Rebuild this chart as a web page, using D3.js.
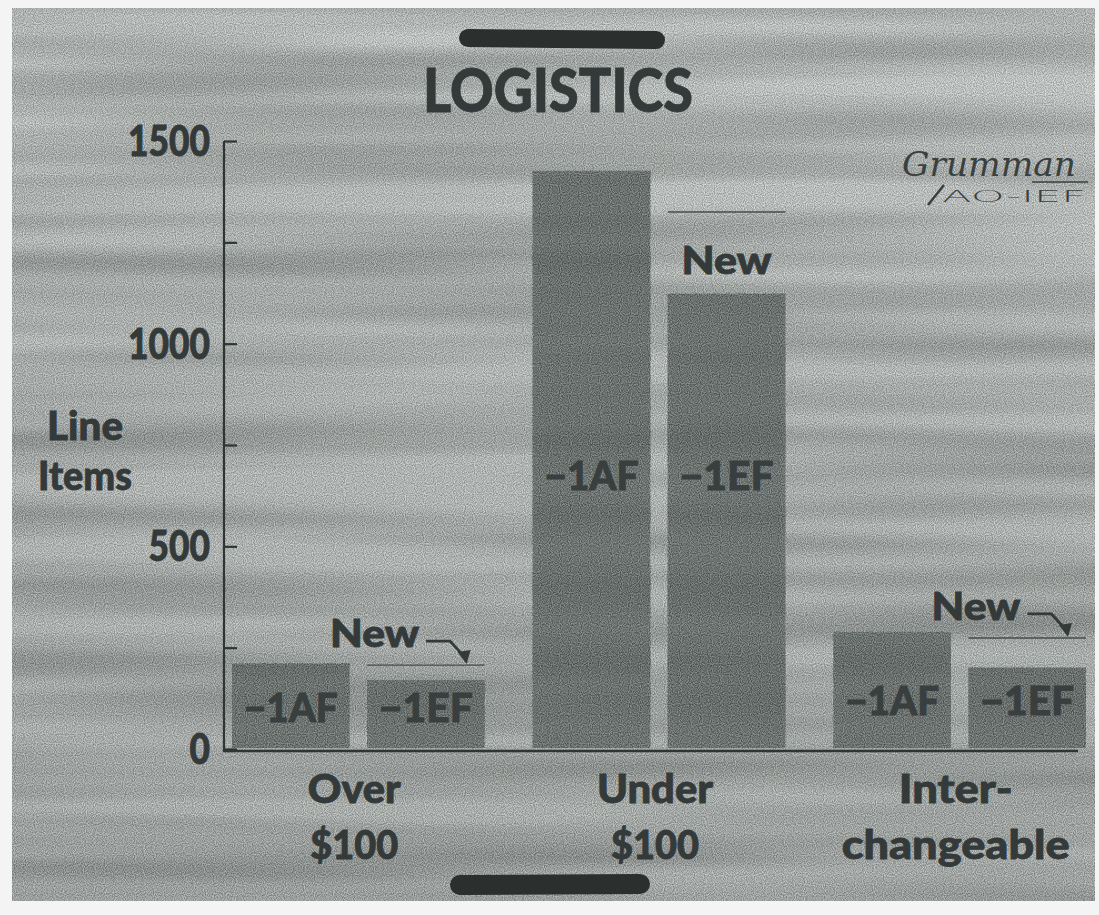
<!DOCTYPE html>
<html>
<head>
<meta charset="utf-8">
<script src="https://cdn.jsdelivr.net/npm/d3@7"></script>
<style>
  body { margin: 0; background: #f3f4f3; }
  svg { display: block; }
  text { font-family: Lato, "Open Sans", sans-serif; font-weight: 900; fill: #343939; }
  text.heavy { stroke: #343939; stroke-width: 0.8px; }
</style>
</head>
<body>
<svg id="chart" width="1099" height="915"></svg>
<script>
// chart values
const categories = ['Over $100', 'Under $100', 'Interchangeable'];
const categoryLines = [['Over', '$100'], ['Under', '$100'], ['Inter-', 'changeable']];
const seriesKeys = ['-1AF', '-1EF'];
const afValues = [210, 1426, 289];
const efValues = [170, 1123, 200];
// level the -1EF bar is compared against ("New" line)
const refValues = [207, 1325, 274];
const majorTicks = [0, 500, 1000, 1500];
const minorTicks = [250, 750, 1250];

const svg = d3.select('#chart');
const ink = '#343939';

// paper + noise (photocopy look)
const defs = svg.append('defs');
const grain = defs.append('filter').attr('id', 'grain')
  .attr('x', 0).attr('y', 0).attr('width', 1).attr('height', 1)
  .attr('color-interpolation-filters', 'sRGB');
grain.append('feTurbulence').attr('type', 'fractalNoise')
  .attr('baseFrequency', '0.0012 0.028').attr('numOctaves', 2).attr('seed', 7).attr('result', 'bands');
grain.append('feColorMatrix').attr('in', 'bands').attr('type', 'matrix')
  .attr('values', '0 0 0 0 0.3  0 0 0 0 0.32  0 0 0 0 0.31  0.9 0 0 0 -0.3').attr('result', 'bandsA');
grain.append('feTurbulence').attr('type', 'fractalNoise')
  .attr('baseFrequency', '0.9').attr('numOctaves', 1).attr('seed', 9).attr('result', 'fine');
grain.append('feColorMatrix').attr('in', 'fine').attr('type', 'matrix')
  .attr('values', '2.2 0 0 0 -0.6  2.2 0 0 0 -0.58  2.2 0 0 0 -0.59  0 0 0 0 0.26').attr('result', 'fineA');
grain.append('feMerge').selectAll('feMergeNode')
  .data(['SourceGraphic', 'bandsA', 'fineA']).join('feMergeNode').attr('in', d => d);

const shade = defs.append('linearGradient').attr('id', 'shade')
  .attr('x1', 0).attr('y1', 0).attr('x2', 0).attr('y2', 1);
shade.append('stop').attr('offset', '0%').attr('stop-color', '#d4d8d6');
shade.append('stop').attr('offset', '40%').attr('stop-color', '#c2c6c4');
shade.append('stop').attr('offset', '100%').attr('stop-color', '#b4b8b6');

svg.append('rect')
  .attr('x', 12).attr('y', 8).attr('width', 1083).attr('height', 893)
  .attr('fill', 'url(#shade)')
  .attr('filter', 'url(#grain)');

// scales
const y = d3.scaleLinear().domain([0, 1500]).range([749, 141]);
const x0 = d3.scaleBand().domain(categories).range([232, 1086]).paddingInner(0.16);
const x1 = d3.scaleBand().domain(seriesKeys).range([0, x0.bandwidth()]).paddingInner(0.13);

const rows = categories.map((c, i) => ({
  cat: c, lines: categoryLines[i], af: afValues[i], ef: efValues[i], ref: refValues[i]
}));

// bars
const groups = svg.append('g').selectAll('g')
  .data(rows)
  .join('g')
  .attr('transform', d => `translate(${x0(d.cat)},0)`);

groups.selectAll('rect')
  .data(d => [{ key: '-1AF', v: d.af }, { key: '-1EF', v: d.ef }])
  .join('rect')
  .attr('x', d => x1(d.key))
  .attr('y', d => y(d.v))
  .attr('width', x1.bandwidth())
  .attr('height', d => y(0) - y(d.v) - 1)
  .attr('fill', '#676e6b')
  .attr('filter', 'url(#grain)');

groups.selectAll('text.series')
  .data(d => seriesKeys.map(k => ({ key: k, ef: d.ef })))
  .join('text')
  .attr('class', 'series heavy')
  .attr('x', d => x1(d.key) + x1.bandwidth() / 2)
  .attr('y', d => y(d.ef * 0.6))
  .attr('dy', '0.36em')
  .attr('text-anchor', 'middle')
  .attr('font-size', 40)
  .attr('textLength', 94)
  .attr('lengthAdjust', 'spacingAndGlyphs')
  .style('fill', '#393e3e').style('stroke', '#393e3e')
  .text(d => d.key.replace('-', '\u2212'));

// "New" reference line + label
groups.each(function (d) {
  const g = d3.select(this);
  const left = x1('-1EF');
  const right = left + x1.bandwidth();
  g.append('line')
    .attr('x1', left).attr('x2', right)
    .attr('y1', y(d.ref)).attr('y2', y(d.ref))
    .attr('stroke', '#474c4c').attr('stroke-width', 1.4);
  const gap = y(d.ef) - y(d.ref);
  if (gap > 50) {
    g.append('text')
      .attr('class', 'heavy')
      .attr('x', left + x1.bandwidth() / 2)
      .attr('y', y(d.ef) - 20)
      .attr('text-anchor', 'middle')
      .attr('font-size', 37)
      .attr('textLength', 90)
      .attr('lengthAdjust', 'spacingAndGlyphs')
      .text('New');
  } else {
    const by = y(d.ref) - 18;
    const tx = left - 37;
    g.append('text')
      .attr('class', 'heavy')
      .attr('x', tx).attr('y', by)
      .attr('font-size', 37)
      .attr('textLength', 89)
      .attr('lengthAdjust', 'spacingAndGlyphs')
      .text('New');
    const tipX = right - 19, tipY = y(d.ref) - 1;
    const hy = by - 6;
    g.append('path')
      .attr('d', `M${tx + 96},${hy}L${tx + 120},${hy}L${tipX},${tipY - 6}`)
      .attr('fill', 'none').attr('stroke', ink).attr('stroke-width', 2.8);
    g.append('path')
      .attr('d', `M${tipX - 8},${tipY - 12}L${tipX + 1},${tipY}L${tipX + 5},${tipY - 14}Z`)
      .attr('fill', ink);
  }
});

// y axis
const axisG = svg.append('g').attr('transform', 'translate(224,0)');
axisG.call(d3.axisRight(y).tickValues(majorTicks.concat(minorTicks)).tickSize(13).tickFormat(''))
  .call(g => g.select('.domain').attr('d', `M0,${y(1500)}V${y(0) + 2}`))
  .call(g => g.selectAll('line, path').attr('stroke', '#2f3434').attr('stroke-width', 2.2));

svg.append('g').selectAll('text')
  .data(majorTicks)
  .join('text')
  .attr('class', 'heavy')
  .attr('x', 210)
  .attr('y', d => y(d))
  .attr('dy', '0.36em')
  .attr('text-anchor', 'end')
  .attr('font-size', 42)
  .attr('textLength', d => String(d).length * 20.5)
  .attr('lengthAdjust', 'spacingAndGlyphs')
  .text(d => d);

// baseline
svg.append('line')
  .attr('x1', 223).attr('x2', x0.range()[1] - 8)
  .attr('y1', y(0) + 2).attr('y2', y(0) + 2)
  .attr('stroke', '#2f3434').attr('stroke-width', 2.5);

// y label
svg.append('text').attr('class', 'heavy').attr('x', 85).attr('y', 440).attr('text-anchor', 'middle')
  .attr('font-size', 40).attr('textLength', 76).attr('lengthAdjust', 'spacingAndGlyphs').text('Line');
svg.append('text').attr('class', 'heavy').attr('x', 85).attr('y', 490).attr('text-anchor', 'middle')
  .attr('font-size', 40).attr('textLength', 94).attr('lengthAdjust', 'spacingAndGlyphs').text('Items');

// category labels
const catWidths = { 'Over': 93, '$100': 88, 'Under': 116, 'Inter-': 114, 'changeable': 228 };
svg.append('g').selectAll('g')
  .data(rows)
  .join('g')
  .each(function (d) {
    const cx = x0(d.cat) + x0.bandwidth() / 2 - 4;
    d3.select(this).selectAll('text')
      .data(d.lines)
      .join('text')
      .attr('class', 'heavy')
      .attr('x', cx)
      .attr('y', (t, i) => 803 + i * 56)
      .attr('text-anchor', 'middle')
      .attr('font-size', 39)
      .attr('textLength', t => catWidths[t])
      .attr('lengthAdjust', 'spacingAndGlyphs')
      .text(t => t);
  });

// title
svg.append('text')
  .attr('class', 'heavy')
  .attr('x', 558).attr('y', 112)
  .attr('text-anchor', 'middle')
  .attr('font-size', 60)
  .attr('textLength', 270)
  .attr('lengthAdjust', 'spacingAndGlyphs')
  .text('LOGISTICS');

// marker strokes
svg.append('path').attr('d', 'M468,38L656,40')
  .attr('stroke', '#2b2f2e').attr('stroke-width', 18).attr('stroke-linecap', 'round');
svg.append('path').attr('d', 'M460,885L640,884')
  .attr('stroke', '#2b2f2e').attr('stroke-width', 20).attr('stroke-linecap', 'round');

// Grumman badge
svg.append('text')
  .attr('x', 902).attr('y', 176)
  .style('font-family', '"DejaVu Serif", serif')
  .style('font-style', 'italic').style('font-weight', 400)
  .attr('font-size', 34)
  .attr('textLength', 174)
  .attr('lengthAdjust', 'spacingAndGlyphs')
  .style('fill', '#3a3f3f')
  .text('Grumman');
svg.append('path').attr('d', 'M1032,182L1088,182')
  .attr('stroke', '#3a3f3f').attr('stroke-width', 1.5);
svg.append('path').attr('d', 'M944,185L928,205')
  .attr('stroke', '#3a3f3f').attr('stroke-width', 2.5);
svg.append('text')
  .attr('x', 942).attr('y', 202)
  .style('font-family', '"DejaVu Sans", sans-serif').style('font-weight', 300)
  .attr('font-size', 16)
  .attr('textLength', 144)
  .attr('lengthAdjust', 'spacingAndGlyphs')
  .style('fill', '#3a3f3f')
  .text('AO-IEF');
</script>
</body>
</html>
